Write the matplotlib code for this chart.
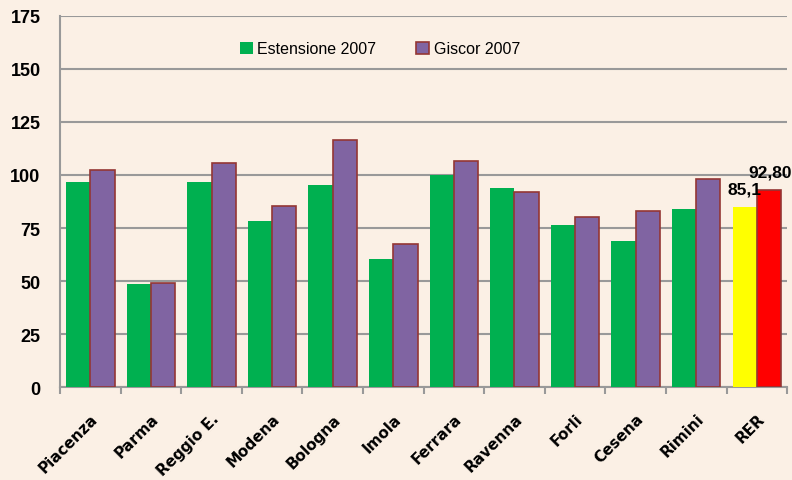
import numpy as np
import matplotlib.pyplot as plt

# Values
categories = ['Piacenza', 'Parma', 'Reggio E.', 'Modena', 'Bologna', 'Imola',
              'Ferrara', 'Ravenna', 'Forli', 'Cesena', 'Rimini', 'RER']
estensione = [96.6, 48.4, 96.6, 78.1, 95.3, 60.2, 100.1, 94.0, 76.6, 69.0, 84.1, 85.1]
giscor = [102.5, 48.9, 105.6, 85.5, 116.3, 67.5, 106.4, 92.0, 80.0, 83.1, 98.1, 92.80]
rer_labels = ['85,1', '92,80']

green = '#00B050'
purple = '#8064A2'
edge = '#943634'
bg = '#FBF0E5'

fig = plt.figure(figsize=(7.92, 4.81), dpi=100, facecolor=bg)
ax = fig.add_axes([0.0758, 0.193, 0.918, 0.772])
ax.set_facecolor(bg)

x = np.arange(len(categories))
w = 0.4
g_colors = [green] * (len(categories) - 1) + ['#FFFF00']
p_colors = [purple] * (len(categories) - 1) + ['#FF0000']

ax.bar(x - w / 2, estensione, w, color=g_colors, zorder=3, label='Estensione 2007')
ax.bar(x + w / 2, giscor, w, color=p_colors, edgecolor=edge, linewidth=1.2,
       zorder=3, label='Giscor 2007')

# value labels on the RER bars
ax.annotate(rer_labels[0], (x[-1] - w / 2, estensione[-1]), xytext=(0, 7),
            textcoords='offset points', ha='center', va='bottom',
            fontsize=12.5, fontweight='bold', family='Liberation Sans', zorder=5)
ax.annotate(rer_labels[1], (x[-1] + w / 2, giscor[-1]), xytext=(1, 8),
            textcoords='offset points', ha='center', va='bottom',
            fontsize=12.5, fontweight='bold', family='Liberation Sans', zorder=5)

ax.set_xlim(-0.5, len(categories) - 0.5)
ax.set_ylim(0, 175)
ax.set_yticks(np.arange(0, 176, 25))
ax.yaxis.grid(True, color='#999999', linewidth=1.5, zorder=0)
ax.tick_params(axis='y', length=0, pad=14)
for lbl in ax.get_yticklabels():
    lbl.set_fontsize(13)
    lbl.set_fontweight('bold')
    lbl.set_family('Liberation Sans')

ax.set_xticks(x)
ax.set_xticklabels(categories, rotation=45, ha='right', rotation_mode='anchor',
                   fontsize=11, fontweight='bold', family='DejaVu Sans')
ax.tick_params(axis='x', which='major', length=0, pad=17)
ax.set_xticks(np.arange(-0.5, len(categories), 1), minor=True)
ax.tick_params(axis='x', which='minor', length=5, color='#999999', width=1.5)

for s in ['top', 'right']:
    ax.spines[s].set_visible(False)
for s in ['left', 'bottom']:
    ax.spines[s].set_color('#999999')
    ax.spines[s].set_linewidth(1.5)

leg = ax.legend(loc='upper center', bbox_to_anchor=(0.44, 0.97), ncol=2,
                frameon=False, handlelength=0.8, handleheight=0.8,
                columnspacing=2.5, handletextpad=0.3,
                prop={'family': 'Liberation Sans', 'size': 11.5})

fig.savefig('out.png', dpi=100, facecolor=bg)
